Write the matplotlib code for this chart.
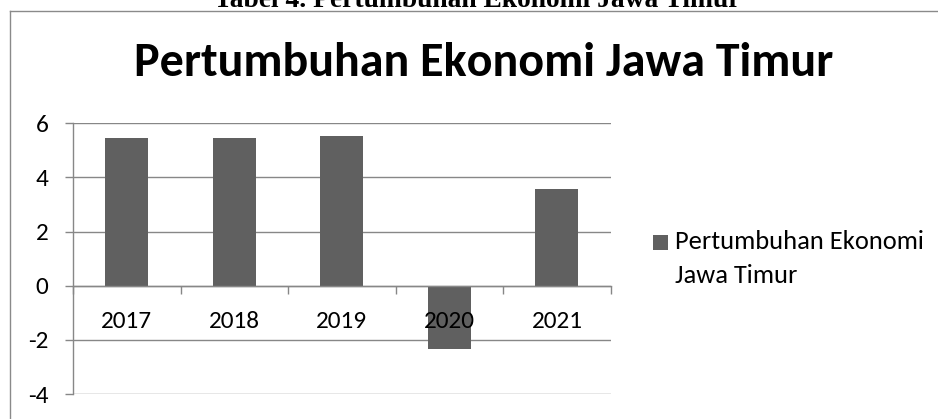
import matplotlib
matplotlib.use("Agg")
import matplotlib.pyplot as plt
from matplotlib import font_manager
from matplotlib.lines import Line2D
from matplotlib.patches import Rectangle

# ---- data ----
years = ["2017", "2018", "2019", "2020", "2021"]
growth = [5.46, 5.47, 5.52, -2.33, 3.57]
yticks = [-4, -2, 0, 2, 4, 6]
title = "Pertumbuhan Ekonomi Jawa Timur"
caption = "Tabel 4. Pertumbuhan Ekonomi Jawa Timur"
legend_lines = ["Pertumbuhan Ekonomi", "Jawa Timur"]

W, H = 938, 419
DPI = 100
names = {f.name for f in font_manager.fontManager.ttflist}
SANS = "Carlito" if "Carlito" in names else "Lato"
SERIF = "Liberation Serif"
BAR = "#606060"
GRID = "#878787"

def fx(x):
    return x / W

def fy(y):
    return 1 - y / H

fig = plt.figure(figsize=(W / DPI, H / DPI), dpi=DPI)
fig.patch.set_facecolor("white")
renderer = fig.canvas.get_renderer()

def fit(t, target_w):
    w = t.get_window_extent(renderer).width
    t.set_fontsize(t.get_fontsize() * target_w / w)
    return t

# plot area in pixels: left 73, right 610.7, top(6) 123.3, bottom(-4) 394
L, R, T, B = 73, 610.7, 123.3, 394
ax = fig.add_axes([fx(L), fy(B), fx(R - L), (B - T) / H])
ax.set_facecolor("none")

x = list(range(len(years)))
bars = ax.bar(x, growth, width=0.40, color=BAR, zorder=1)

ax.set_xlim(-0.5, len(years) - 0.5)
ax.set_ylim(min(yticks), max(yticks))

for v in yticks:
    ax.axhline(v, color=GRID, lw=1.0, zorder=0.5)

for s in ["top", "right"]:
    ax.spines[s].set_visible(False)
ax.spines["left"].set_color(GRID)
ax.spines["left"].set_linewidth(1.0)
ax.spines["bottom"].set_position(("data", 0))
ax.spines["bottom"].set_color(GRID)
ax.spines["bottom"].set_linewidth(1.0)

# tick label font size from measured width of "2017" (~51 px)
tmp = fig.text(0, 0, "2017", family=SANS, fontsize=12)
fit(tmp, 51)
fs = tmp.get_fontsize()
tmp.remove()

ax.set_yticks(yticks)
ax.set_yticklabels([str(v) for v in yticks], family=SANS, fontsize=fs)
ax.tick_params(axis="y", direction="out", length=5.76, width=1.0,
               color=GRID, pad=12.0, labelcolor="black")

ax.set_xticks([i - 0.5 for i in range(len(years) + 1)])
ax.set_xticklabels([])
ax.tick_params(axis="x", which="major", direction="out", length=5.76,
               width=1.0, color=GRID)
ax.set_xticks(x, minor=True)
ax.set_xticklabels(years, minor=True, family=SANS, fontsize=fs)
ax.tick_params(axis="x", which="minor", length=0, pad=18.0, labelcolor="black")

# title
t = fig.text(fx(483.5), fy(76.5), title, family=SANS, weight="bold",
             fontsize=30, ha="center", va="baseline", color="black")
fit(t, 697)

# caption cut off at top
c = fig.text(fx(477), fy(7.3), caption, family=SERIF, weight="bold",
             fontsize=18, ha="center", va="baseline", color="black")
fit(c, 525)

# chart border (left and top edges visible)
fig.add_artist(Line2D([fx(9.5), fx(9.5)], [fy(11.5), fy(H + 5)],
                      color="#8a8a8a", lw=1.0, transform=fig.transFigure))
fig.add_artist(Line2D([fx(9.5), fx(W + 5)], [fy(11.5), fy(11.5)],
                      color="#8a8a8a", lw=1.0, transform=fig.transFigure))

# legend
fig.add_artist(Rectangle((fx(653), fy(250)), fx(15), 15 / H,
                         facecolor=bars[0].get_facecolor(), edgecolor="none",
                         transform=fig.transFigure))
l1 = fig.text(fx(675), fy(249.3), legend_lines[0], family=SANS, fontsize=fs,
              ha="left", va="baseline", color="black")
fit(l1, 248)
fig.text(fx(675), fy(282.7), legend_lines[1], family=SANS,
         fontsize=l1.get_fontsize(), ha="left", va="baseline", color="black")

fig.savefig("out.png", dpi=DPI, facecolor="white")
